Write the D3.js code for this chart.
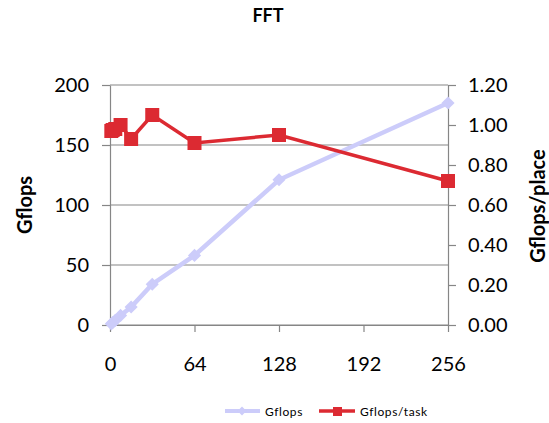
<!DOCTYPE html>
<html>
<head>
<meta charset="utf-8">
<script src="https://cdn.jsdelivr.net/npm/d3@7"></script>
<style>
  body { margin: 0; background: #fff; }
  svg { display: block; font-family: Lato, "Open Sans", sans-serif; }
</style>
</head>
<body>
<svg id="chart"></svg>
<script>
// data
const places = [1, 2, 4, 8, 16, 32, 64, 128, 256];
const gflops = [0.97, 1.95, 3.9, 8.0, 15, 34, 58, 121, 185];
const gflopsPerTask = [0.97, 0.975, 0.98, 1.0, 0.93, 1.05, 0.91, 0.95, 0.72];
const xTicks = [0, 64, 128, 192, 256];
const leftTicks = [0, 50, 100, 150, 200];
const rightTicks = [0, 0.2, 0.4, 0.6, 0.8, 1.0, 1.2];

const width = 549, height = 423;
const blue = "#ccccfa", red = "#dc2a32", grey = "#868686";

const x = d3.scaleLinear().domain([0, 256]).range([110, 448]);
const yL = d3.scaleLinear().domain([0, 200]).range([325, 85]);
const yR = d3.scaleLinear().domain([0, 1.2]).range([325, 85]);

const svg = d3.select("#chart").attr("width", width).attr("height", height);

svg.append("text")
    .attr("x", 268).attr("y", 22)
    .attr("text-anchor", "middle")
    .attr("font-size", 18).attr("font-weight", "bold")
    .text("FFT");

// gridlines
svg.append("g")
  .selectAll("line")
  .data(leftTicks)
  .join("line")
    .attr("x1", x(0)).attr("x2", x(256))
    .attr("y1", d => yL(d)).attr("y2", d => yL(d))
    .attr("stroke", grey).attr("stroke-width", 1.2);

function styleAxis(g) {
  g.select(".domain").attr("stroke", grey).attr("stroke-width", 1.2);
  g.selectAll(".tick line").attr("stroke", grey).attr("stroke-width", 1.2);
  g.selectAll("text").attr("font-size", 20).attr("fill", "#000")
    .attr("font-family", "Lato, 'Open Sans', sans-serif");
}

svg.append("g")
    .attr("transform", `translate(${x(0)},0)`)
    .call(d3.axisLeft(yL).tickValues(leftTicks).tickSize(8).tickSizeOuter(0).tickPadding(13))
    .call(styleAxis);

svg.append("g")
    .attr("transform", `translate(${x(256)},0)`)
    .call(d3.axisRight(yR).tickValues(rightTicks).tickSize(8).tickSizeOuter(0).tickPadding(12)
      .tickFormat(d3.format(".2f")))
    .call(styleAxis);

svg.append("g")
    .attr("transform", `translate(0,${yL(0)})`)
    .call(d3.axisBottom(x).tickValues(xTicks).tickSize(7).tickSizeOuter(0).tickPadding(25))
    .call(styleAxis);

// axis titles
svg.append("text")
    .attr("transform", `translate(32,205) rotate(-90)`)
    .attr("text-anchor", "middle")
    .attr("font-size", 20).attr("font-weight", "bold")
    .text("Gflops");

svg.append("text")
    .attr("transform", `translate(545,206) rotate(-90)`)
    .attr("text-anchor", "middle")
    .attr("font-size", 20).attr("font-weight", "bold")
    .text("Gflops/place");

// Gflops series (left axis)
const blueLine = d3.line().x((d, i) => x(places[i])).y(d => yL(d));
svg.append("path")
    .datum(gflops)
    .attr("fill", "none").attr("stroke", blue).attr("stroke-width", 4.5)
    .attr("d", blueLine);

const diamond = d3.symbol().type(d3.symbolDiamond2).size(110);
svg.append("g")
  .selectAll("path")
  .data(gflops)
  .join("path")
    .attr("transform", (d, i) => `translate(${x(places[i])},${yL(d)})`)
    .attr("fill", blue)
    .attr("d", diamond);

// Gflops/task series (right axis)
const redLine = d3.line().x((d, i) => x(places[i])).y(d => yR(d));
svg.append("path")
    .datum(gflopsPerTask)
    .attr("fill", "none").attr("stroke", red).attr("stroke-width", 3.5)
    .attr("d", redLine);

svg.append("g")
  .selectAll("rect")
  .data(gflopsPerTask)
  .join("rect")
    .attr("x", (d, i) => x(places[i]) - 7)
    .attr("y", d => yR(d) - 7)
    .attr("width", 14).attr("height", 14)
    .attr("fill", red);

// legend
const legend = svg.append("g").attr("font-size", 12);
legend.append("line").attr("x1", 225).attr("x2", 260).attr("y1", 411).attr("y2", 411)
    .attr("stroke", blue).attr("stroke-width", 4);
legend.append("path").attr("transform", "translate(242,411)").attr("fill", blue)
    .attr("d", d3.symbol().type(d3.symbolDiamond2).size(50));
legend.append("text").attr("x", 265).attr("y", 415.5).attr("letter-spacing", 0.6).text("Gflops");

legend.append("line").attr("x1", 319).attr("x2", 355).attr("y1", 411).attr("y2", 411)
    .attr("stroke", red).attr("stroke-width", 3.5);
legend.append("rect").attr("x", 333).attr("y", 407).attr("width", 9).attr("height", 9).attr("fill", red);
legend.append("text").attr("x", 360).attr("y", 415.5).attr("letter-spacing", 0.6).text("Gflops/task");
</script>
</body>
</html>
